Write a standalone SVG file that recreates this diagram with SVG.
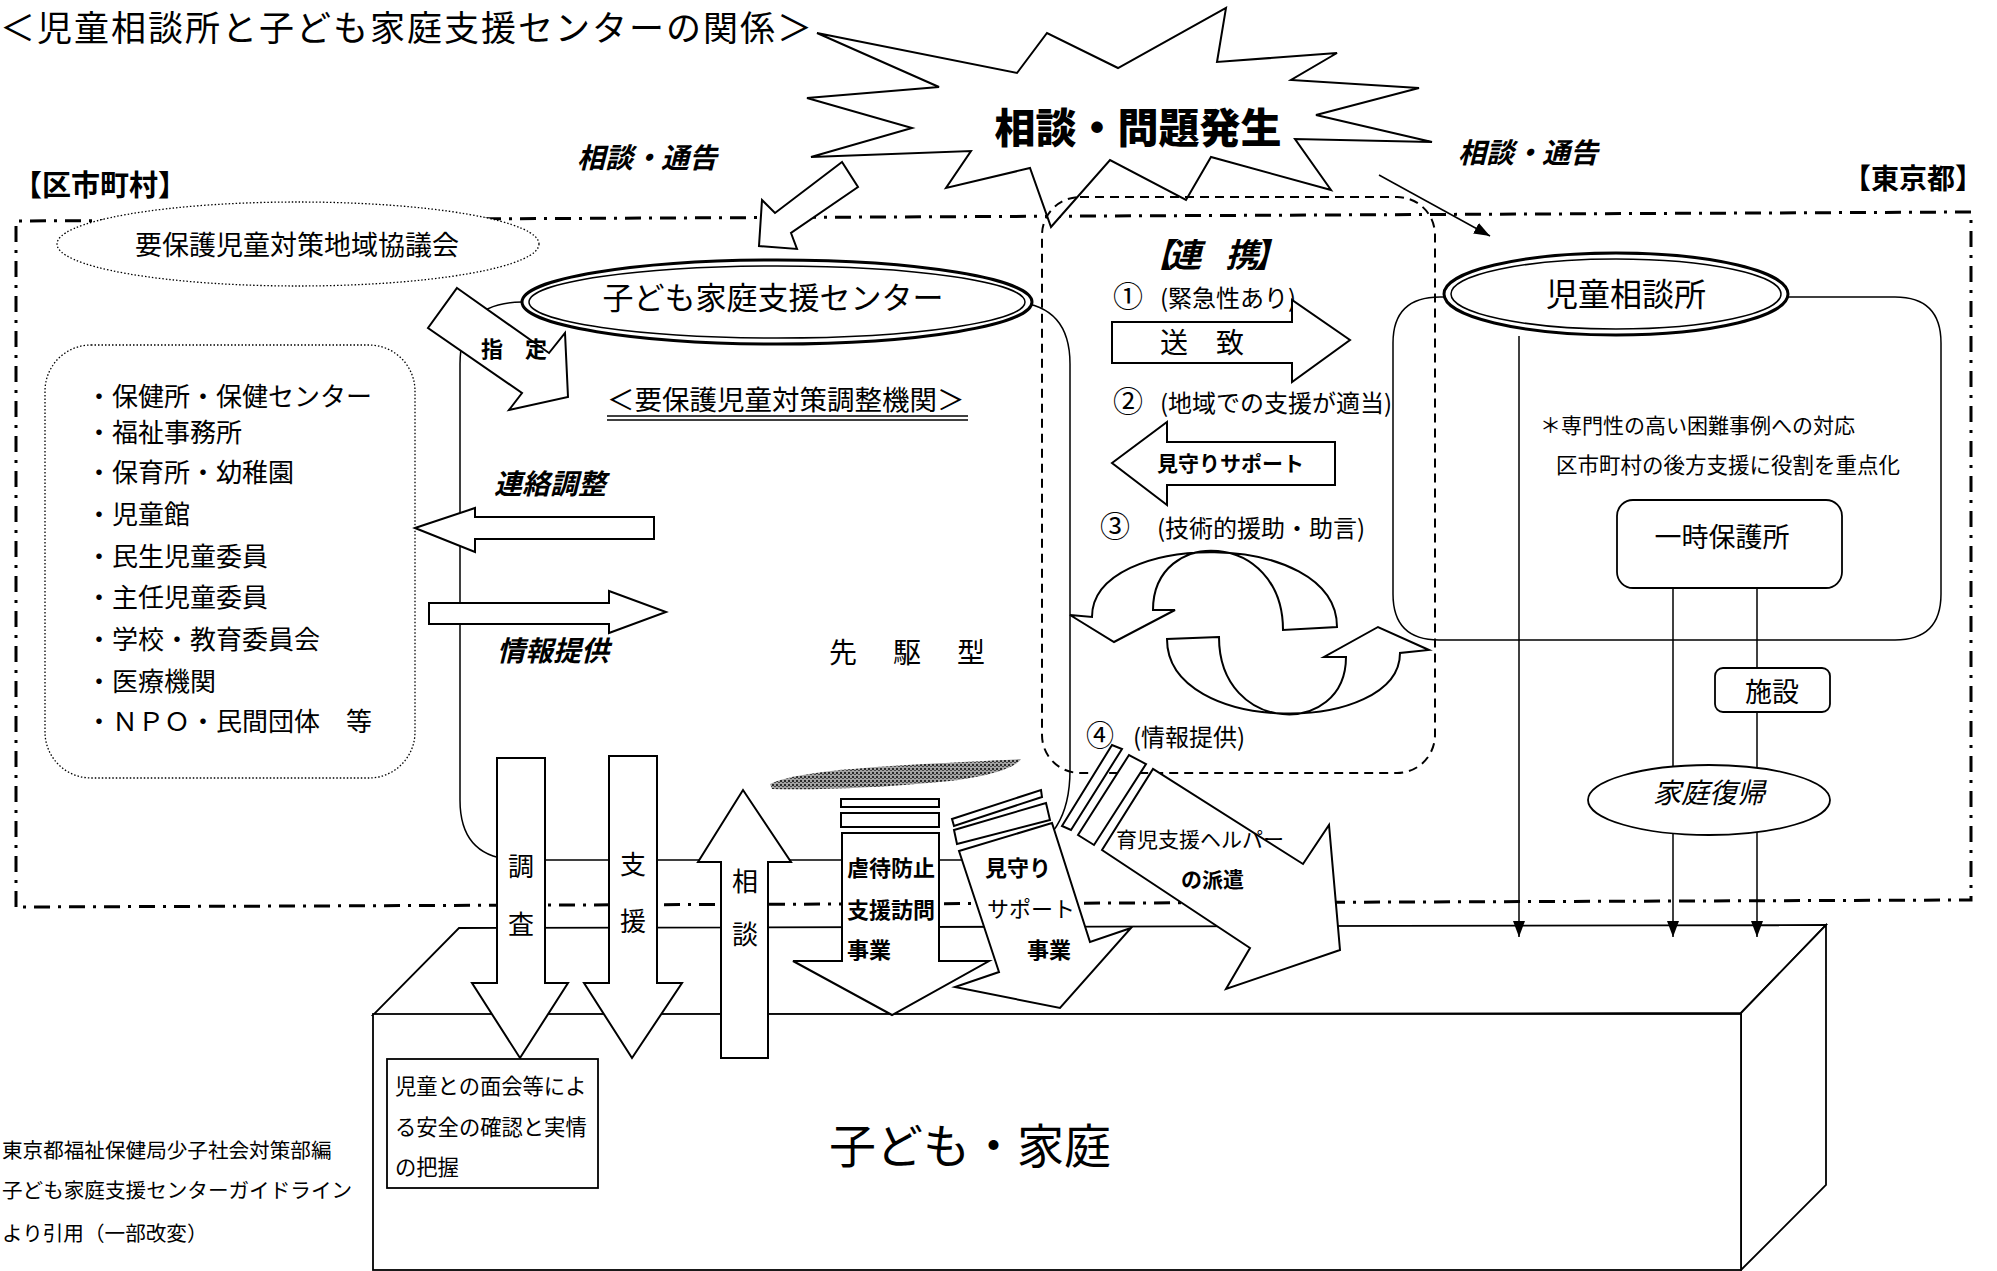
<svg xmlns="http://www.w3.org/2000/svg" width="1997" height="1271" viewBox="0 0 1997 1271">
<defs>
<style>
.t{font-family:"Noto Sans CJK JP","Noto Sans",sans-serif;fill:#000}
.b{font-weight:bold}
.i{font-style:italic}
.ln{fill:none;stroke:#000;stroke-width:1.5}
.arr{fill:#fff;stroke:#000;stroke-width:2;stroke-linejoin:miter}
.dd{fill:none;stroke:#000;stroke-width:3;stroke-dasharray:16 8 3 8}
.dot{fill:#fff;stroke:#000;stroke-width:1.3;stroke-dasharray:1.5 2}
.dash{fill:none;stroke:#000;stroke-width:2;stroke-dasharray:9 6}
.box{fill:#fff;stroke:#000;stroke-width:1.8}
</style>
<marker id="ah" markerUnits="userSpaceOnUse" markerWidth="16" markerHeight="12" refX="16" refY="6" orient="auto">
<path d="M0,0 L16,6 L0,12 z" fill="#000"/>
</marker>
<pattern id="smear" width="4" height="4" patternUnits="userSpaceOnUse">
<rect width="4" height="4" fill="#999"/>
<rect x="0" y="0" width="2" height="2" fill="#111"/>
<rect x="2" y="2" width="2" height="1" fill="#333"/>
</pattern>
</defs>
<rect width="1997" height="1271" fill="#fff"/>

<text class="t" x="0" y="41" font-size="35" letter-spacing="2">＜児童相談所と子ども家庭支援センターの関係＞</text>

<g id="frame">
<path class="dd" d="M16,907 L16,221 L1971,212 L1971,900 Z"/>
<text class="t b" x="13" y="196" font-size="29">【区市町村】</text>
<text class="t b" x="1843" y="189" font-size="28">【東京都】</text>
</g>

<g id="starburst">
<path d="M817,33 L1017,73 L1047,33 L1118,68 L1226,8 L1217,62 L1337,53 L1291,80 L1419,88 L1316,115 L1432,142 L1295,139 L1331,190 L1211,157 L1186,200 L1110,160 L1051,227 L1030,168 L946,188 L971,151 L811,157 L912,128 L807,98 L939,87 Z" fill="#fff" stroke="#000" stroke-width="2" stroke-linejoin="miter"/>
<text class="t" x="1138" y="143" font-size="41" font-weight="900" text-anchor="middle">相談・問題発生</text>
</g>

<g id="kyogikai">
<ellipse class="dot" cx="298" cy="244" rx="241" ry="42"/>
<text class="t" x="297" y="255" font-size="27" text-anchor="middle">要保護児童対策地域協議会</text>
</g>

<g id="kikan-list">
<rect class="dot" x="45" y="345" width="370" height="433" rx="46"/>
<g class="t" font-size="26">
<text x="86" y="406">・保健所・保健センター</text>
<text x="86" y="442">・福祉事務所</text>
<text x="86" y="482">・保育所・幼稚園</text>
<text x="86" y="524">・児童館</text>
<text x="86" y="566">・民生児童委員</text>
<text x="86" y="607">・主任児童委員</text>
<text x="86" y="649">・学校・教育委員会</text>
<text x="86" y="691">・医療機関</text>
<text x="86" y="731">・ＮＰＯ・民間団体　等</text>
</g>
</g>

<g id="box-family">
<path class="box" d="M459,928 L1826,925 L1741,1013 L373,1015 Z"/>
<path class="box" d="M1741,1013 L1826,925 L1826,1185 L1741,1270 Z"/>
<rect class="box" x="373" y="1014" width="1368" height="256"/>
<text class="t" x="829" y="1163" font-size="47">子ども・家庭</text>
</g>

<g id="center-container">
<path class="ln" d="M522,302 L1008,302 Q1070,302 1070,364 L1070,770 Q1070,860 980,860 L520,860 Q460,860 460,800 L460,364 Q460,302 522,302 Z"/>
</g>

<g id="jisou-container">
<path class="ln" d="M1440,297 L1895,297 Q1941,297 1941,343 L1941,594 Q1941,640 1895,640 L1439,640 Q1393,640 1393,594 L1393,343 Q1393,297 1440,297 Z"/>
</g>

<g id="smear-mark">
<path d="M770,784 C800,770 880,766 1021,759 C1015,768 990,776 950,781 C880,788 820,790 772,789 Z" fill="url(#smear)" opacity="0.9"/>
</g>

<g id="connectors">
<line class="ln" x1="1379" y1="175" x2="1490" y2="236" marker-end="url(#ah)"/>
<line class="ln" x1="1519" y1="336" x2="1519" y2="937" marker-end="url(#ah)"/>
<line class="ln" x1="1673" y1="588" x2="1673" y2="937" marker-end="url(#ah)"/>
<line class="ln" x1="1757" y1="588" x2="1757" y2="937" marker-end="url(#ah)"/>
</g>

<g id="renkei">
<rect class="dash" x="1042" y="197" width="393" height="576" rx="38"/>
<text class="t b i" x="1140" y="267" font-size="33" letter-spacing="-4.5">【連　携】</text>
<text class="t" x="1113" y="307" font-size="30">①</text>
<text class="t" x="1160" y="307" font-size="24">(緊急性あり)</text>
<path class="arr" d="M1112,322 L1292,322 L1292,300 L1350,340 L1292,382 L1292,363 L1112,363 Z"/>
<text class="t" x="1160" y="353" font-size="28">送　致</text>
<text class="t" x="1113" y="412" font-size="30">②</text>
<text class="t" x="1160" y="412" font-size="24">(地域での支援が適当)</text>
<path class="arr" d="M1112,463 L1167,422 L1167,442 L1335,442 L1335,485 L1167,485 L1167,505 Z"/>
<text class="t b" x="1157" y="471" font-size="21">見守りサポート</text>
<text class="t" x="1100" y="537" font-size="30">③</text>
<text class="t" x="1157" y="537" font-size="24">(技術的援助・助言)</text>
<path class="arr" d="M1337,627 C1337,528 1092,530 1092,617 L1070,615 L1114,642 L1175,610 L1153,610 C1153,526 1283,530 1283,630 Z"/>
<path class="arr" d="M1219,637 L1167,639 C1167,737 1400,735 1400,653 L1429,650 L1378,627 L1324,657 L1346,657 C1346,738 1219,735 1219,637 Z"/>
<text class="t" x="1086" y="746" font-size="28">④</text>
<text class="t" x="1133" y="746" font-size="24">(情報提供)</text>
</g>

<g id="kodomo-center">
<ellipse cx="777" cy="302" rx="255" ry="42" fill="#fff" stroke="#000" stroke-width="3"/>
<ellipse cx="777" cy="302" rx="248" ry="36" fill="none" stroke="#000" stroke-width="1.5"/>
<text class="t" x="773" y="309" font-size="31" text-anchor="middle">子ども家庭支援センター</text>
<text class="t" x="607" y="410" font-size="27.5">＜要保護児童対策調整機関＞</text>
<line x1="607" y1="416" x2="968" y2="416" stroke="#000" stroke-width="1.5"/>
<line x1="607" y1="420" x2="968" y2="420" stroke="#000" stroke-width="1.5"/>
<text class="t" x="829" y="663" font-size="28" letter-spacing="36">先駆型</text>
</g>

<g id="jidou-soudanjo">
<ellipse cx="1616" cy="294" rx="172" ry="41" fill="#fff" stroke="#000" stroke-width="3"/>
<ellipse cx="1616" cy="294" rx="165" ry="35" fill="none" stroke="#000" stroke-width="1.5"/>
<text class="t" x="1626" y="306" font-size="32" text-anchor="middle">児童相談所</text>
<text class="t" x="1540" y="433" font-size="21">＊専門性の高い困難事例への対応</text>
<text class="t" x="1556" y="473" font-size="21.5">区市町村の後方支援に役割を重点化</text>
</g>

<g id="ichiji-hogo">
<rect class="box" x="1617" y="500" width="225" height="88" rx="16"/>
<text class="t" x="1722" y="547" font-size="27" text-anchor="middle">一時保護所</text>
</g>

<g id="shisetsu">
<rect class="box" x="1715" y="668" width="115" height="44" rx="8"/>
<text class="t" x="1772" y="702" font-size="27" text-anchor="middle">施設</text>
</g>

<g id="katei-fukki">
<ellipse class="box" cx="1709" cy="800" rx="121" ry="35"/>
<text class="t i" x="1709" y="803" font-size="28" text-anchor="middle">家庭復帰</text>
</g>

<g id="arrows">
<path class="arr" d="M842,162 L775,213 L762,200 L759,246 L797,249 L791,233 L858,187 Z"/>
<path class="arr" d="M457,288 L549,353 L565,333 L568,397 L509,410 L522,393 L428,328 Z"/>
<path class="arr" d="M415,528 L475,508 L475,517 L654,517 L654,539 L475,539 L475,552 Z"/>
<path class="arr" d="M429,603 L609,603 L609,591 L666,612 L609,633 L609,624 L429,624 Z"/>
<path class="arr" d="M497,758 L545,758 L545,983 L568,983 L520,1058 L472,983 L497,983 Z"/>
<path class="arr" d="M609,756 L657,756 L657,983 L682,983 L632,1058 L584,983 L609,983 Z"/>
<path class="arr" d="M721,1058 L768,1058 L768,862 L791,862 L743,790 L698,862 L721,862 Z"/>
<rect class="arr" x="841" y="799" width="98" height="8"/>
<rect class="arr" x="841" y="813" width="98" height="14"/>
<path class="arr" d="M842,833 L939,833 L939,961 L989,961 L892,1015 L793,961 L842,961 Z"/>
<path class="arr" d="M952,819 L1041,790 L1042,797 L954,826 Z"/>
<path class="arr" d="M954,830 L1046,803 L1050,820 L957,844 Z"/>
<path class="arr" d="M959,851 L1052,823 L1090,942 L1131,928 L1060,1008 L955,987 L999,972 Z"/>
<path class="arr" d="M1062,826 L1112,745 L1122,749 L1071,830 Z"/>
<path class="arr" d="M1078,835 L1129,755 L1146,764 L1094,845 Z"/>
<path class="arr" d="M1102,850 L1153,769 L1303,864 L1329,825 L1340,950 L1226,989 L1250,948 Z"/>
</g>

<g id="labels">
<text class="t b i" x="577" y="168" font-size="28">相談・通告</text>
<text class="t b i" x="1458" y="163" font-size="28">相談・通告</text>
<text class="t b" x="481" y="357" font-size="22">指　定</text>
<text class="t b i" x="494" y="494" font-size="28">連絡調整</text>
<text class="t b i" x="497" y="661" font-size="28">情報提供</text>
<g class="t" font-size="26" text-anchor="middle">
<text x="521" y="876">調</text>
<text x="521" y="934">査</text>
<text x="633" y="874">支</text>
<text x="633" y="931">援</text>
<text x="745" y="891">相</text>
<text x="745" y="944">談</text>
</g>
<g class="t b" font-size="22">
<text x="847" y="876">虐待防止</text>
<text x="847" y="918">支援訪問</text>
<text x="847" y="958">事業</text>
<text x="985" y="876">見守り</text>
<text x="987" y="917" font-weight="normal">サポート</text>
<text x="1027" y="958">事業</text>
</g>
<text class="t" x="1116" y="847" font-size="21">育児支援ヘルパー</text>
<text class="t b" x="1181" y="887" font-size="21">の派遣</text>
</g>

<g id="note-box">
<rect class="box" x="387" y="1059" width="211" height="129"/>
<g class="t" font-size="21.3">
<text x="395" y="1094">児童との面会等によ</text>
<text x="395" y="1135">る安全の確認と実情</text>
<text x="395" y="1175">の把握</text>
</g>
</g>

<g id="citation" class="t" font-size="20.6">
<text x="2" y="1158">東京都福祉保健局少子社会対策部編</text>
<text x="2" y="1198">子ども家庭支援センターガイドライン</text>
<text x="2" y="1241">より引用（一部改変）</text>
</g>
</svg>
